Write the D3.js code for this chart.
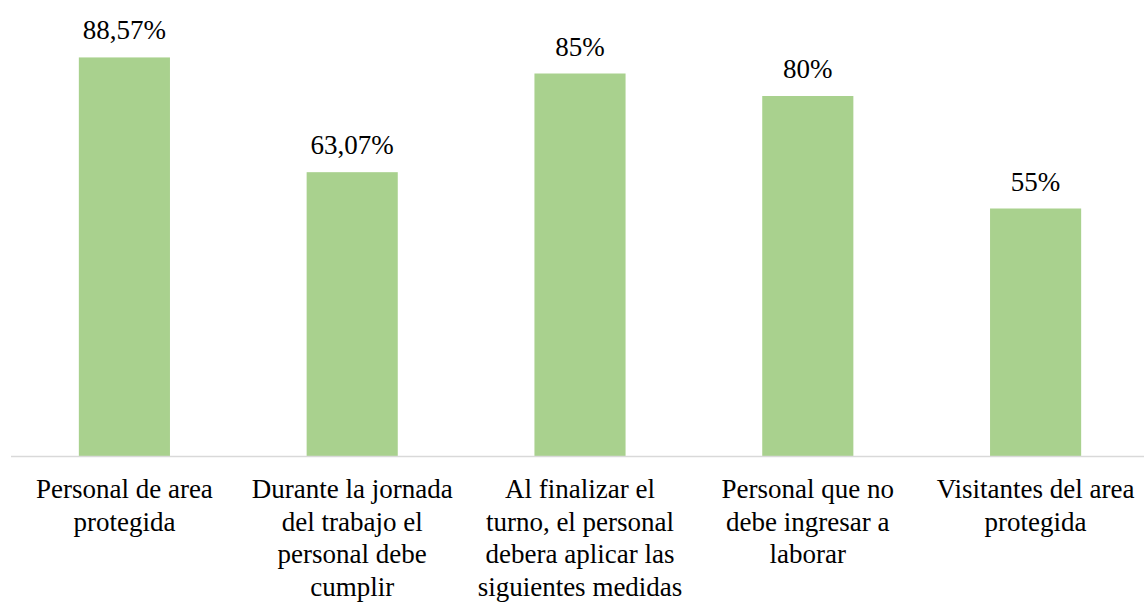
<!DOCTYPE html>
<html lang="es">
<head>
<meta charset="utf-8">
<title>Medidas de bioseguridad</title>
<style>
  body { margin: 0; background: #fff; }
</style>
</head>
<body>
<svg id="chart"></svg>
<script src="https://d3js.org/d3.v7.min.js"></script>
<script>
const categories = [
  ['Personal de area', 'protegida'],
  ['Durante la jornada', 'del trabajo el', 'personal debe', 'cumplir'],
  ['Al finalizar el', 'turno, el personal', 'debera aplicar las', 'siguientes medidas'],
  ['Personal que no', 'debe ingresar a', 'laborar'],
  ['Visitantes del area', 'protegida']
];
const values = [88.57, 63.07, 85, 80, 55];
const valueLabels = ['88,57%', '63,07%', '85%', '80%', '55%'];

const width = 1144, height = 606;
const margin = { top: 6, right: -6, bottom: 150, left: 11 };
const serif = "'Liberation Serif', 'Times New Roman', Tinos, 'DejaVu Serif', serif";

const svg = d3.select('#chart')
  .attr('width', width)
  .attr('height', height);

const x = d3.scaleBand()
  .domain(d3.range(values.length))
  .range([margin.left - 0.5, width - margin.right - 0.5])
  .paddingInner(0.6)
  .paddingOuter(0.3);

const y = d3.scaleLinear()
  .domain([0, 100])
  .range([height - margin.bottom, margin.top]);

// bars
svg.append('g')
  .selectAll('rect')
  .data(values)
  .join('rect')
  .attr('x', (d, i) => x(i))
  .attr('y', d => y(d))
  .attr('width', x.bandwidth())
  .attr('height', d => y(0) - y(d))
  .attr('fill', '#a9d18e');

// baseline
svg.append('line')
  .attr('x1', margin.left)
  .attr('x2', width)
  .attr('y1', y(0) + 0.5)
  .attr('y2', y(0) + 0.5)
  .attr('stroke', '#d9d9d9')
  .attr('stroke-width', 1.5);

// value labels
svg.append('g')
  .selectAll('text')
  .data(values)
  .join('text')
  .attr('x', (d, i) => x(i) + x.bandwidth() / 2)
  .attr('y', d => y(d) - 18)
  .attr('text-anchor', 'middle')
  .attr('font-family', serif)
  .attr('font-size', 27)
  .attr('fill', '#000')
  .text((d, i) => valueLabels[i]);

// category labels
const cat = svg.append('g')
  .selectAll('text')
  .data(categories)
  .join('text')
  .attr('x', (d, i) => x(i) + x.bandwidth() / 2)
  .attr('y', y(0) + 42)
  .attr('text-anchor', 'middle')
  .attr('font-family', serif)
  .attr('font-size', 27)
  .attr('fill', '#000');

cat.selectAll('tspan')
  .data(d => d)
  .join('tspan')
  .attr('x', function() { return d3.select(this.parentNode).attr('x'); })
  .attr('dy', (d, i) => i === 0 ? 0 : 32.7)
  .text(d => d);
</script>
</body>
</html>
